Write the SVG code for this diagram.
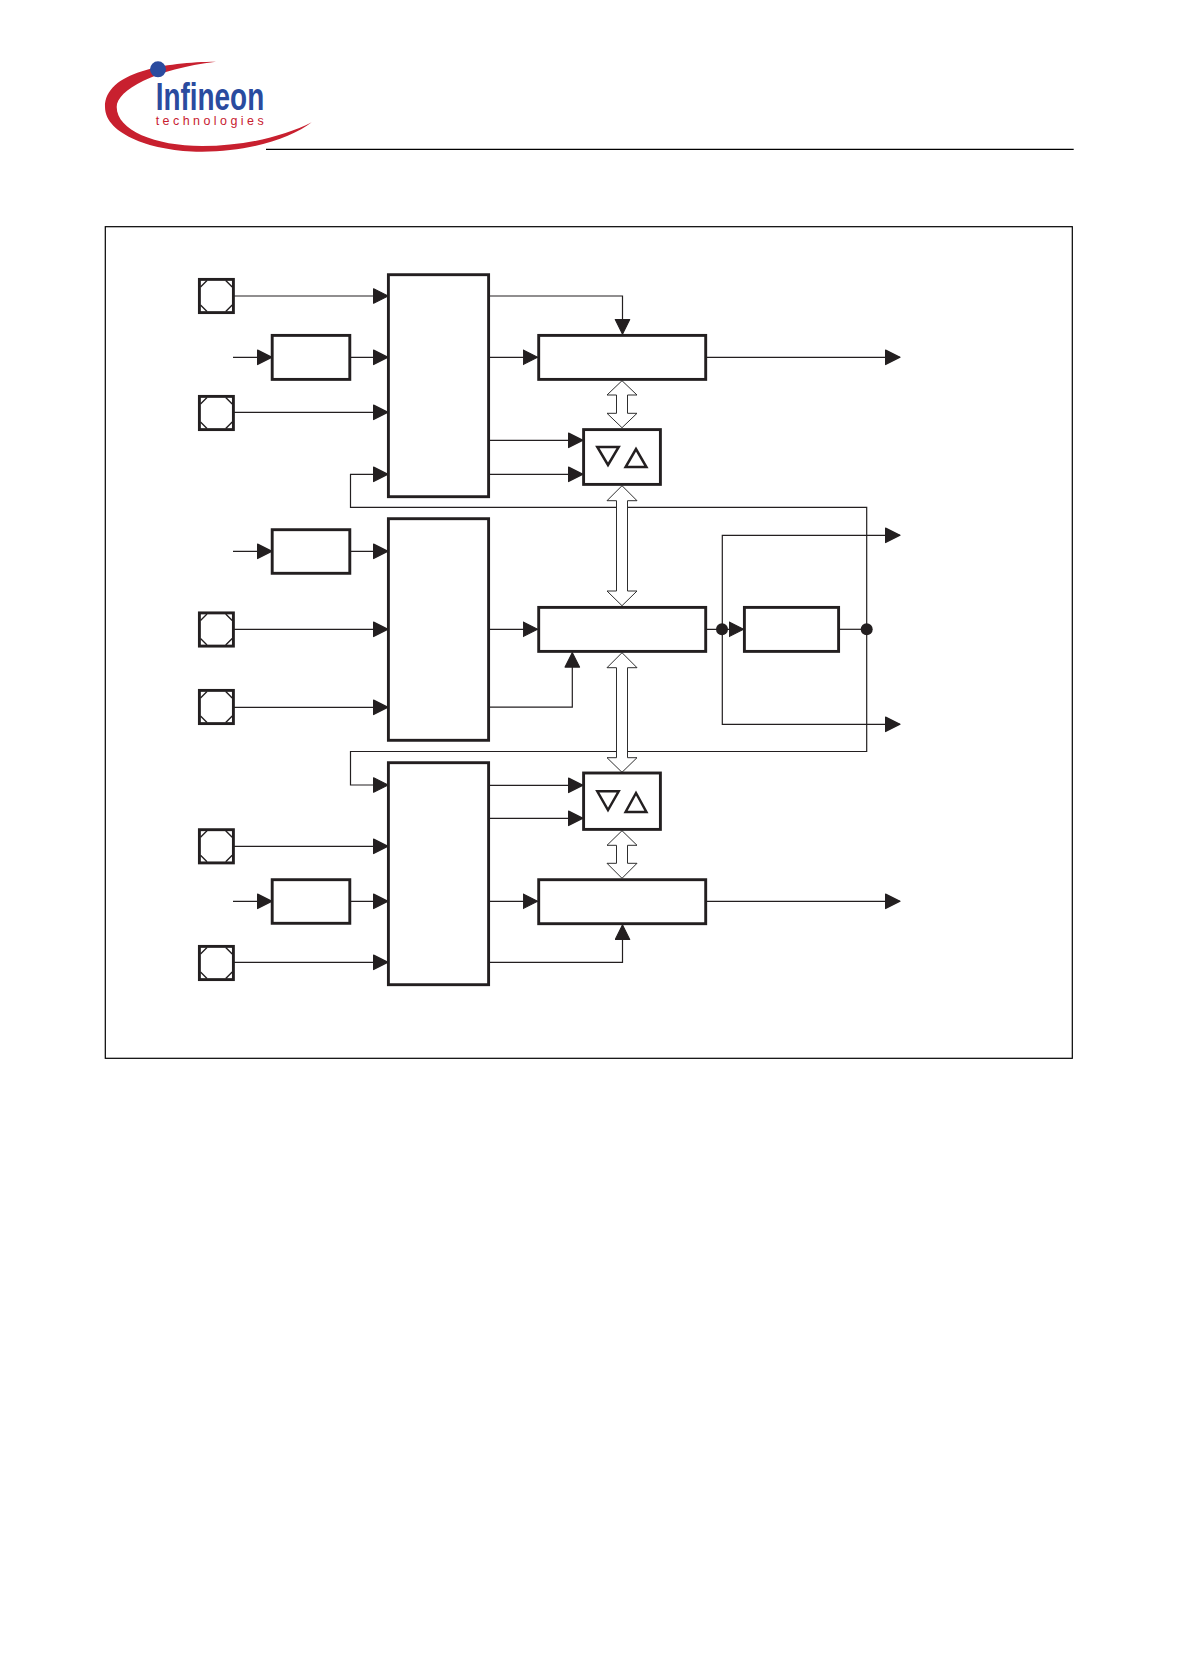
<svg xmlns="http://www.w3.org/2000/svg" width="1177" height="1667" viewBox="0 0 1177 1667">
<style>
.b{fill:#fff;stroke:#231f20;stroke-width:2.9}
.t{fill:#fff;stroke:#231f20;stroke-width:2.5;stroke-linejoin:miter}
.w{fill:none;stroke:#231f20;stroke-width:1.2}
.a{fill:none;stroke:#231f20;stroke-width:1.2;marker-end:url(#ah)}
.d{fill:#fff;stroke:#2e2e2e;stroke-width:1}
.c{fill:#231f20}
.f{fill:none;stroke:#000;stroke-width:1.2}
.x{fill:none;stroke:#231f20;stroke-width:1.4}
</style>
<defs>
<marker id="ah" markerUnits="userSpaceOnUse" markerWidth="17" markerHeight="17" refX="15" refY="8" orient="auto">
<path d="M.6,.8 L15,8 L.6,15.2 Z" fill="#231f20" stroke="#231f20" stroke-width="1.2" stroke-linejoin="round"/>
</marker>
<g id="pin">
<rect class="b" x="1.4" y="1.4" width="34" height="33.2"/>
<path class="x" d="M2.5,9 L9,2.5 M27.7,2.5 L34.2,9 M2.5,27 L9,33.4 M27.7,33.4 L34.2,27"/>
</g>
</defs>
<rect width="1177" height="1667" fill="#fff"/>

<g id="logo">
<path d="M216,61.7 C165,62 105,72 105,107 C105,135 155,152 202,151.7 C250,151.5 292,138 311.7,122.3 C285,136 245,146 202,146 C155,146 116.7,130 116.7,107 C116.7,90 155,69 216,61.7 Z" fill="#c8202f"/>
<circle cx="158" cy="69.3" r="8" fill="#2a4b9f"/>
<text x="155.7" y="110" font-family="'Liberation Sans',sans-serif" font-size="39.5" font-weight="700" fill="#2a4b9f" textLength="108.5" lengthAdjust="spacingAndGlyphs">Infineon</text>
<text x="155.7" y="125" font-family="'Liberation Sans',sans-serif" font-size="12.5" fill="#c8202f" textLength="108" lengthAdjust="spacing">technologies</text>
</g>
<path id="header-rule" class="f" d="M266,149.4 H1073.7"/>
<rect id="frame" class="f" x="105.3" y="226.7" width="967" height="831.6"/>

<g id="connectors">
<path class="a" d="M234,296 H388"/>
<path class="a" d="M233,357.3 H272"/>
<path class="a" d="M351,357.3 H388"/>
<path class="a" d="M234,412.3 H388"/>
<path class="a" d="M233,551.3 H272"/>
<path class="a" d="M351,551.3 H388"/>
<path class="a" d="M234,629.3 H388"/>
<path class="a" d="M234,707.3 H388"/>
<path class="a" d="M234,846.3 H388"/>
<path class="a" d="M233,901.3 H272"/>
<path class="a" d="M351,901.3 H388"/>
<path class="a" d="M234,962.3 H388"/>
<path class="a" d="M490,296 H622.5 V334"/>
<path class="a" d="M490,357.3 H537.5"/>
<path class="a" d="M490,440.3 H583"/>
<path class="a" d="M490,474.3 H583"/>
<path class="a" d="M490,629.3 H537.5"/>
<path class="a" d="M490,707.2 H572.3 V652.7"/>
<path class="a" d="M490,785.3 H583"/>
<path class="a" d="M490,818.3 H583"/>
<path class="a" d="M490,901.3 H537.5"/>
<path class="a" d="M490,962.3 H622.5 V925"/>
<path class="a" d="M707,357.3 H900"/>
<path class="a" d="M707,901.3 H900"/>
<path class="a" d="M707,629.3 H743.5"/>
<path class="w" d="M840,629.3 H866.7"/>
<path class="a" d="M722.3,629.3 V535.3 H900"/>
<path class="a" d="M722.3,629.3 V724.3 H900"/>
<path class="a" d="M866.7,629.3 V507.4 H350.5 V474.3 H388"/>
<path class="a" d="M866.7,629.3 V751.5 H350.5 V785 H388"/>
<circle class="c" cx="722" cy="629.3" r="6"/>
<circle class="c" cx="866.7" cy="629.3" r="6"/>
<path class="d" d="M622,380.7 L637,395 H627.5 V413.3 H637 L622,427.7 L607,413.3 H616.5 V395 H607 Z"/>
<path class="d" d="M622,485.7 L637,500.7 H627.5 V591 H637 L622,605.7 L607,591 H616.5 V500.7 H607 Z"/>
<path class="d" d="M622,652.7 L637,667.7 H627.5 V757.7 H637 L622,772.3 L607,757.7 H616.5 V667.7 H607 Z"/>
<path class="d" d="M622,830.7 L637,845.3 H627.5 V863.3 H637 L622,878.3 L607,863.3 H616.5 V845.3 H607 Z"/>
</g>

<use id="pin-1" href="#pin" x="198" y="278"/>
<use id="pin-2" href="#pin" x="198" y="395"/>
<use id="pin-3" href="#pin" x="198" y="611.5"/>
<use id="pin-4" href="#pin" x="198" y="689"/>
<use id="pin-5" href="#pin" x="198" y="828.3"/>
<use id="pin-6" href="#pin" x="198" y="945"/>

<g id="filter-1"><rect class="b" x="272.2" y="335.4" width="77.6" height="44"/></g>
<g id="filter-2"><rect class="b" x="272.2" y="529.7" width="77.6" height="43.6"/></g>
<g id="filter-3"><rect class="b" x="272.2" y="879.7" width="77.6" height="43.6"/></g>

<g id="mux-1"><rect class="b" x="388.4" y="274.7" width="100.2" height="222"/></g>
<g id="mux-2"><rect class="b" x="388.4" y="518.7" width="100.2" height="221.6"/></g>
<g id="mux-3"><rect class="b" x="388.4" y="762.7" width="100.2" height="222"/></g>

<g id="register-1"><rect class="b" x="538.7" y="335.4" width="167" height="44"/></g>
<g id="register-2"><rect class="b" x="538.7" y="607.4" width="167" height="44"/></g>
<g id="register-3"><rect class="b" x="538.7" y="879.7" width="167" height="44"/></g>

<g id="comparator-1">
<rect class="b" x="583.6" y="429.6" width="76.8" height="54.8"/>
<path class="t" d="M597.3,447 H618.7 L608,465 Z"/>
<path class="t" d="M625.6,467 H646.4 L636,449 Z"/>
</g>
<g id="comparator-2">
<rect class="b" x="583.6" y="773" width="76.8" height="56.4"/>
<path class="t" d="M597.3,791.3 H618.7 L608,810 Z"/>
<path class="t" d="M625.6,812 H646.4 L636,793 Z"/>
</g>
<g id="block"><rect class="b" x="744.4" y="607.4" width="94.2" height="44"/></g>
</svg>
